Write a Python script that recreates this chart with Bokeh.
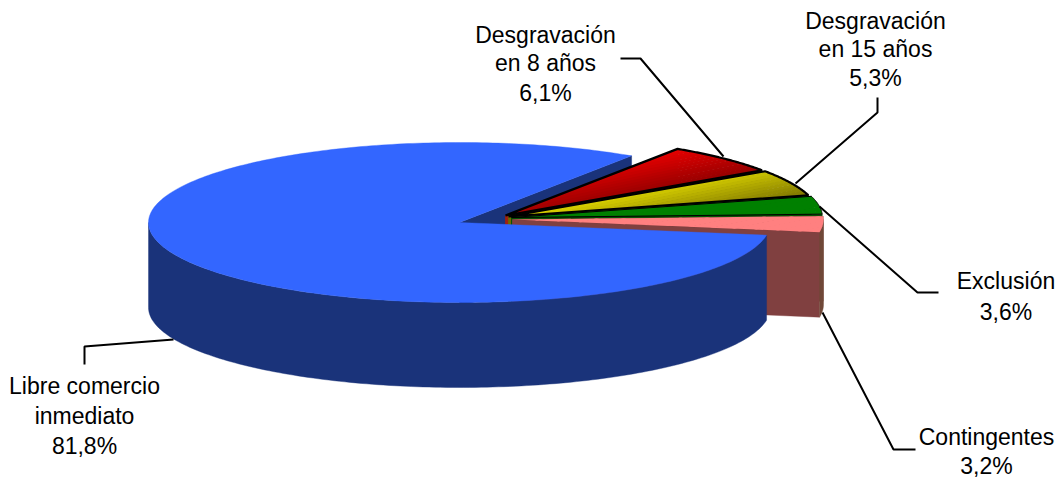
import math
from bokeh.plotting import figure
from bokeh.core.properties import value
from bokeh.embed import file_html
from bokeh.resources import INLINE

# ---- data ----
categories = ["Libre comercio\ninmediato", "Desgravación\nen 8 años", "Desgravación\nen 15 años", "Exclusión", "Contingentes"]
shares = [81.8, 6.1, 5.3, 3.6, 3.2]
share_labels = ["81,8%", "6,1%", "5,3%", "3,6%", "3,2%"]

# ---- layout ----
W, H = 1061, 477
RX, RY, DEPTH = 311, 80, 85
START = 56.4
BLUE_C = (459, 222)
WEDGE_C = [(505, 215), (508, 216), (511, 217), (512, 219)]
TOP_BRIGHT = [(230, 0, 0), (218, 210, 0), (0, 128, 0), (255, 128, 128)]
TOP_DARK = [(150, 0, 0), (128, 120, 0), (0, 128, 0), (255, 128, 128)]
SIDE = ["#a02010", "#6e6a00", "#005000", "#804040"]
EDGE = [("black", 2.2), ("black", 2.2), ("black", 1.0), (None, 0)]
LABEL_X = [84, 545, 875, 1005.5, 986]
LABEL_MID = [[385, 415, 445], [34, 62, 92], [20, 48, 77], [280, 311], [436, 465]]
LEADERS = [
    [(84, 364), (84, 346), (173, 339)],
    [(620, 58), (640, 58), (723, 156)],
    [(877, 97), (877, 112), (795, 183)],
    [(938, 292), (917, 292), (819, 206)],
    [(915, 449), (893, 449), (822, 312)],
]
FONT = "Liberation Sans"
FS = "23px"

p = figure(width=W, height=H, x_range=(0, W), y_range=(H, 0),
           output_backend="svg", toolbar_location=None, min_border=0)
p.axis.visible = False
p.grid.visible = False
p.outline_line_color = None


def rim(c, a0, a1, n=80):
    return [(c[0] + RX * math.cos(math.radians(a0 + (a1 - a0) * i / n)),
             c[1] - RY * math.sin(math.radians(a0 + (a1 - a0) * i / n))) for i in range(n + 1)]


def poly(pts, fill, line=None, lw=1):
    p.patch([q[0] for q in pts], [q[1] for q in pts], fill_color=fill,
            line_color=line if line else fill, line_width=lw if line else 0.4)


def down(q):
    return (q[0], q[1] + DEPTH)


def clip(pts, d, t, keep_less):
    out = []
    f = lambda q: (q[0] * d[0] + q[1] * d[1] - t) * (1 if keep_less else -1)
    for i in range(len(pts)):
        a, b = pts[i], pts[(i + 1) % len(pts)]
        fa, fb = f(a), f(b)
        if fa <= 0:
            out.append(a)
        if fa * fb < 0:
            s = fa / (fa - fb)
            out.append((a[0] + s * (b[0] - a[0]), a[1] + s * (b[1] - a[1])))
    return out


def gradient(pts, c0, c1, bands=14):
    d = (0.2, 0.98)
    ts = [q[0] * d[0] + q[1] * d[1] for q in pts]
    lo, hi = min(ts), max(ts)
    for b in range(bands):
        t0 = lo + (hi - lo) * b / bands
        t1 = lo + (hi - lo) * (b + 1) / bands + 0.6
        piece = clip(clip(pts, d, t0, False), d, t1, True)
        if len(piece) > 2:
            k = b / (bands - 1)
            col = "#%02x%02x%02x" % tuple(int(c0[i] + (c1[i] - c0[i]) * k) for i in range(3))
            p.patch([q[0] for q in piece], [q[1] for q in piece], fill_color=col, line_color=None)


# angles from the shares
sweeps = [s / sum(shares) * 360 for s in shares]
blue_a0 = START
blue_a1 = START + sweeps[0]

# inner cut face of the big slice
e = rim(BLUE_C, blue_a0, blue_a0, 1)[0]
poly([BLUE_C, e, down(e), down(BLUE_C)], "#1a337a")

# exploded slices, back to front
a = START
for i in range(4):
    a0, a1 = a, a - sweeps[i + 1]
    a = a1
    c = WEDGE_C[i]
    r = rim(c, a0, a1)
    s, t = r[0], r[-1]
    poly([c, s, down(s), down(c)], SIDE[i])
    poly([c, t, down(t), down(c)], SIDE[i])
    if a1 < 0:
        f = rim(c, 0, a1, 20)
        poly(f + [down(q) for q in reversed(f)], "#704838")
    gradient([c] + r, TOP_BRIGHT[i], TOP_DARK[i])
    col, lw = EDGE[i]
    if col:
        pts = [c] + r + [c]
        p.line([q[0] for q in pts], [q[1] for q in pts], line_color=col, line_width=lw)

# outer wall and top of the big slice
wall_top = rim(BLUE_C, blue_a1, 180, 160)
poly(wall_top + [down(q) for q in reversed(wall_top)], "#1a337a")
top = rim(BLUE_C, blue_a0, blue_a1, 300)
poly([BLUE_C] + top, "#3366ff")

# leader lines
for pts in LEADERS:
    p.line([q[0] for q in pts], [q[1] for q in pts], line_color="black", line_width=2)

# labels
for cat, lab, x, mids in zip(categories, share_labels, LABEL_X, LABEL_MID):
    lines = cat.split("\n") + [lab]
    for t, y in zip(lines, mids):
        p.text([x], [y], text=[t], text_font=value(FONT), text_font_size=FS,
               text_align="center", text_baseline="middle", text_color="black")

open("out.html", "w").write(file_html(p, INLINE))
